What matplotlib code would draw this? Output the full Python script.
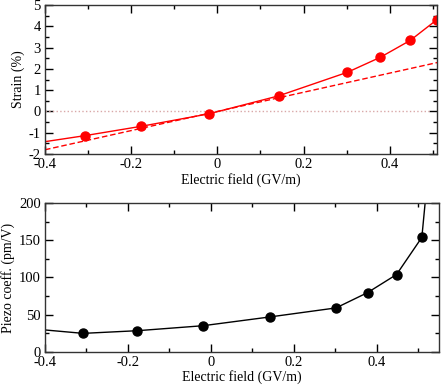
import numpy as np
import matplotlib.pyplot as plt
from matplotlib.ticker import MultipleLocator

# data
field = [-0.308, -0.177, -0.019, 0.142, 0.302, 0.378, 0.448, 0.509]
strain = [-1.14, -0.70, -0.11, 0.73, 1.84, 2.54, 3.34, 4.30]
piezo = [24.7, 28.3, 35.0, 46.8, 59.0, 79.6, 104.0, 154.0]

# curve end points outside the sampled range
strain_line_x = [-0.4] + field
strain_line_y = [-1.42] + strain
piezo_line_x = [-0.4] + field + [0.522]
piezo_line_y = [29.3] + piezo + [230.0]

lin_slope = 4.5  # linear (dashed) strain

plt.rcParams['font.family'] = ['Liberation Serif', 'DejaVu Serif']
plt.rcParams['font.size'] = 10

fig = plt.figure(figsize=(4.43, 3.85), dpi=100)
ax1 = fig.add_axes([0.1016, 0.6, 0.885, 0.387])
ax2 = fig.add_axes([0.1016, 0.0865, 0.889, 0.3855])

# top panel: strain
xl = np.array([-0.4, 0.51])
ax1.axhline(0, color='#d9a8a8', lw=1, ls=':', xmax=0.98)
ax1.plot(xl, lin_slope * xl, color='red', lw=1, ls='--', dashes=(4, 2))
ax1.plot(strain_line_x, strain_line_y, color='red', lw=1)
ax1.plot(field, strain, 'o', color='red', ms=6.5)
ax1.set_xlim(-0.4, 0.51)
ax1.set_ylim(-2, 5)
ax1.set_ylabel('Strain (%)', labelpad=3)
ax1.set_xlabel('Electric field (GV/m)', labelpad=1)
ax1.xaxis.set_major_locator(MultipleLocator(0.2))
ax1.xaxis.set_minor_locator(MultipleLocator(0.1))
ax1.yaxis.set_major_locator(MultipleLocator(1))
ax1.yaxis.set_minor_locator(MultipleLocator(0.5))

# bottom panel: piezo coefficient
ax2.plot(piezo_line_x, piezo_line_y, color='black', lw=1)
ax2.plot(field, piezo, 'o', color='black', ms=6.5)
ax2.set_xlim(-0.4, 0.55)
ax2.set_ylim(0, 200)
ax2.set_ylabel('Piezo coeff. (pm/V)', labelpad=3)
ax2.set_xlabel('Electric field (GV/m)', labelpad=1)
ax2.xaxis.set_major_locator(MultipleLocator(0.2))
ax2.xaxis.set_minor_locator(MultipleLocator(0.1))
ax2.yaxis.set_major_locator(MultipleLocator(50))
ax2.yaxis.set_minor_locator(MultipleLocator(25))

for ax in (ax1, ax2):
    ax.xaxis.set_major_formatter(lambda v, p: '0' if abs(v) < 1e-9 else f'{v:g}')
    ax.yaxis.set_major_formatter(lambda v, p: '0' if abs(v) < 1e-9 else f'{v:g}')
    ax.tick_params(which='both', direction='in', top=True, right=True, pad=3, labelsize=10.5)
    ax.tick_params(which='major', length=6, width=1)
    ax.tick_params(which='minor', length=3, width=1)
    for s in ax.spines.values():
        s.set_linewidth(1)
        s.set_color('#333333')

fig.savefig('out.png', dpi=100)
